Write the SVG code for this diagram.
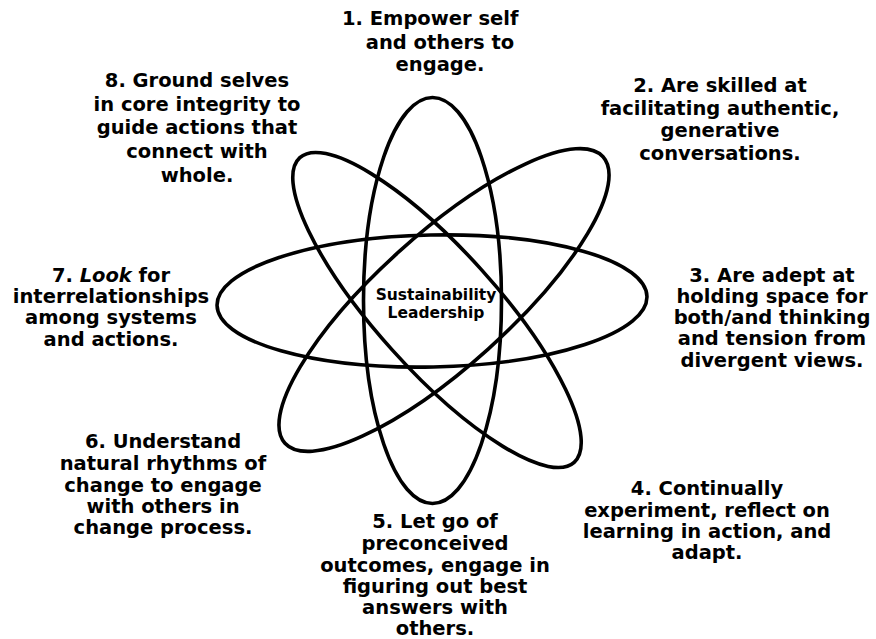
<svg xmlns="http://www.w3.org/2000/svg" width="876" height="639" viewBox="0 0 876 639">
<style>
.orb{fill:none;stroke:#000;stroke-width:3.6}
.lbl{font-family:"DejaVu Sans","Verdana",sans-serif;font-weight:bold;font-size:19.5px;fill:#000;text-anchor:middle}
.ctr{font-family:"DejaVu Sans","Verdana",sans-serif;font-weight:bold;font-size:15.5px;fill:#000;text-anchor:middle}
</style>
<rect width="876" height="639" fill="#fff"/>
<g id="connectors">
<ellipse class="orb" cx="432" cy="301" rx="215" ry="66" transform="rotate(-1.2 432 301)"/>
<ellipse class="orb" cx="432.5" cy="300.5" rx="69" ry="203"/>
<ellipse class="orb" cx="444" cy="300" rx="214" ry="66" transform="rotate(-42 444 300)"/>
<ellipse class="orb" cx="437" cy="310" rx="205" ry="60" transform="rotate(48 437 310)"/>
</g>
<g id="center">
<text class="ctr" x="436" y="300">Sustainability</text>
<text class="ctr" x="436" y="318">Leadership</text>
</g>
<g id="n1">
<text class="lbl" x="342" y="25" text-anchor="start" style="text-anchor:start">1. Empower self</text>
<text class="lbl" x="440" y="49">and others to</text>
<text class="lbl" x="440" y="71">engage.</text>
</g>
<g id="n2">
<text class="lbl" x="720" y="92">2. Are skilled at</text>
<text class="lbl" x="720" y="115">facilitating authentic,</text>
<text class="lbl" x="720" y="137">generative</text>
<text class="lbl" x="720" y="160">conversations.</text>
</g>
<g id="n3">
<text class="lbl" x="772" y="282">3. Are adept at</text>
<text class="lbl" x="772" y="303">holding space for</text>
<text class="lbl" x="772" y="324">both/and thinking</text>
<text class="lbl" x="772" y="345">and tension from</text>
<text class="lbl" x="772" y="367">divergent views.</text>
</g>
<g id="n4">
<text class="lbl" x="707" y="495">4. Continually</text>
<text class="lbl" x="707" y="517">experiment, reflect on</text>
<text class="lbl" x="707" y="538">learning in action, and</text>
<text class="lbl" x="707" y="559">adapt.</text>
</g>
<g id="n5">
<text class="lbl" x="435" y="528">5. Let go of</text>
<text class="lbl" x="435" y="550">preconceived</text>
<text class="lbl" x="435" y="572">outcomes, engage in</text>
<text class="lbl" x="435" y="593">figuring out best</text>
<text class="lbl" x="435" y="614">answers with</text>
<text class="lbl" x="435" y="635">others.</text>
</g>
<g id="n6">
<text class="lbl" x="163" y="448">6. Understand</text>
<text class="lbl" x="163" y="470">natural rhythms of</text>
<text class="lbl" x="163" y="492">change to engage</text>
<text class="lbl" x="163" y="513">with others in</text>
<text class="lbl" x="163" y="534">change process.</text>
</g>
<g id="n7">
<text class="lbl" x="111" y="282">7. <tspan font-style="italic">Look</tspan> for</text>
<text class="lbl" x="111" y="303">interrelationships</text>
<text class="lbl" x="111" y="324">among systems</text>
<text class="lbl" x="111" y="346">and actions.</text>
</g>
<g id="n8">
<text class="lbl" x="197" y="87">8. Ground selves</text>
<text class="lbl" x="197" y="111">in core integrity to</text>
<text class="lbl" x="197" y="134">guide actions that</text>
<text class="lbl" x="197" y="158">connect with</text>
<text class="lbl" x="197" y="182">whole.</text>
</g>
</svg>
